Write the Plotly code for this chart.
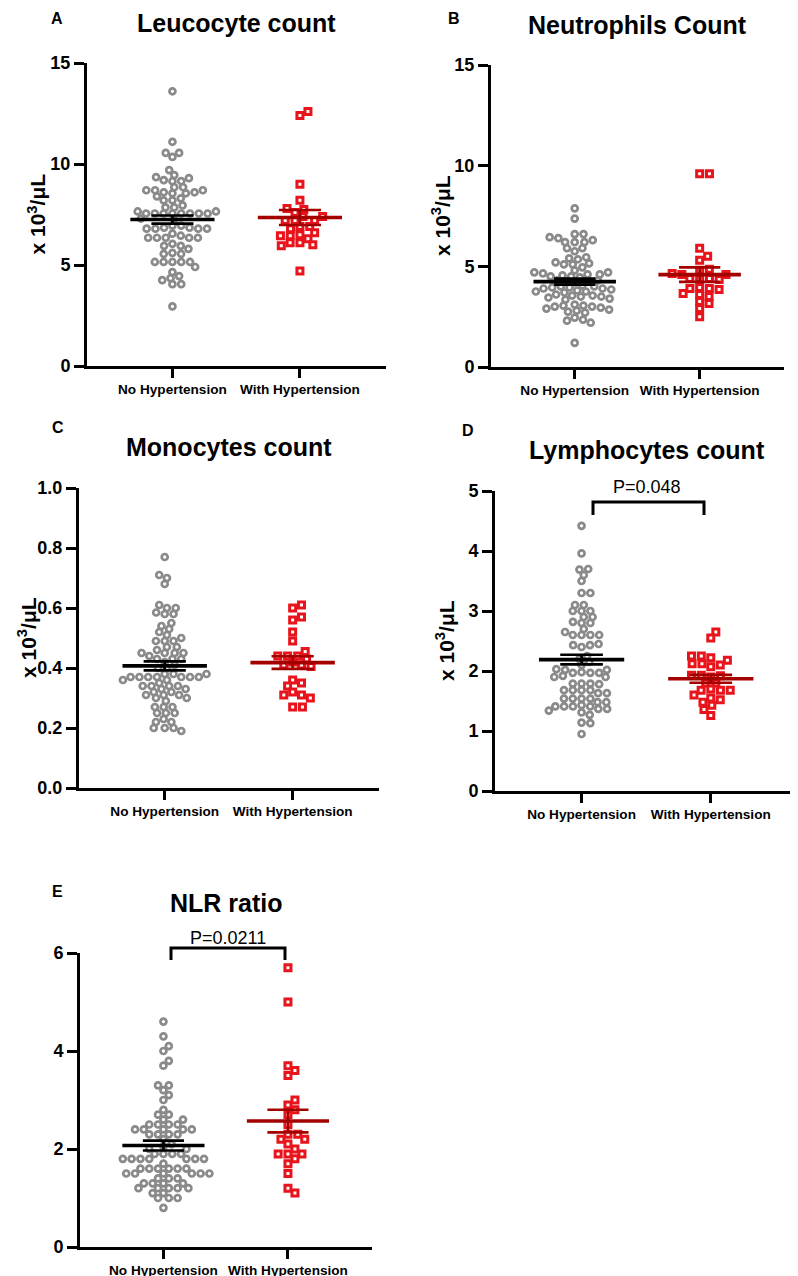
import numpy as np
import plotly.graph_objects as go

W, H = 798, 1276
OFF = 8  # the page body margin shifts the figure by this much

groups = ["No Hypertension", "With Hypertension"]
unit_label = "x 10<sup>3</sup>/μL"

# ---- values (x10^3/uL, NLR unitless) ----
leuco_no = [13.6, 11.1, 10.55, 10.55, 10.35, 9.7,
            9.45, 9.35, 9.3, 9.2, 9.15, 9.15,
            8.85, 8.85, 8.7, 8.7, 8.7, 8.6, 8.6, 8.55, 8.55,
            8.4, 8.3, 8.2, 8.2,
            7.95, 7.85, 7.85,
            7.65, 7.65, 7.55, 7.55, 7.55, 7.55, 7.55, 7.55, 7.55, 7.55,
            7.3, 7.25,
            6.95, 6.95, 6.85, 6.85, 6.8, 6.8, 6.8, 6.8,
            6.55, 6.45, 6.35, 6.35, 6.35, 6.35, 6.35,
            6.05, 5.95, 5.95, 5.8, 5.6, 5.55, 5.55,
            5.15, 5.15, 5.15, 5.15, 5.15,
            4.9, 4.65, 4.45, 4.35, 4.25, 4.05, 4.05,
            2.95]
leuco_with = [12.6, 12.4, 9.0, 8.2, 7.8, 7.75, 7.6, 7.4, 7.4, 7.2, 7.2, 7.2,
              6.9, 6.9, 6.8, 6.6, 6.5, 6.45, 6.45, 6.3, 6.1, 6.1, 6.0, 5.95, 4.7]

neutro_no = [7.88, 7.37,
             6.6, 6.6, 6.45, 6.4, 6.3, 6.2, 6.2, 6.2,
             5.9, 5.9, 5.75,
             5.45, 5.4, 5.35, 5.2, 5.15, 5.1, 5.1,
             4.95, 4.8, 4.7, 4.7, 4.65, 4.5, 4.5, 4.45, 4.6, 4.6, 4.55,
             4.3, 4.25, 4.25, 4.2, 4.3,
             4.05, 4.0, 4.0, 3.95, 3.95, 3.9, 3.9, 3.85, 3.8, 3.75, 3.75, 3.7,
             3.6, 3.55, 3.55, 3.5, 3.5, 3.45, 3.4, 3.35,
             3.1, 3.05, 3.05, 3.0, 3.0, 2.95, 2.9, 2.85, 2.8, 2.75, 2.7,
             2.45, 2.35, 2.2, 2.3, 1.2]
neutro_with = [9.6, 9.6, 5.9, 5.5, 5.3, 4.85, 4.8, 4.6, 4.6, 4.65, 4.4, 4.4, 4.4,
               4.35, 3.95, 3.9, 3.9, 3.85, 3.65, 3.6, 3.5, 3.25, 3.15, 2.9, 2.5]

mono_no = [0.77, 0.71, 0.70, 0.68,
           0.61, 0.60, 0.60, 0.585, 0.58, 0.58,
           0.55, 0.54, 0.53, 0.52, 0.51, 0.50, 0.49, 0.49, 0.49,
           0.47, 0.47, 0.46, 0.45, 0.45, 0.45, 0.45, 0.43, 0.43, 0.44, 0.43,
           0.42, 0.40, 0.40,
           0.41, 0.38, 0.38, 0.37, 0.37, 0.37, 0.37, 0.37, 0.37, 0.37, 0.38, 0.36, 0.36,
           0.33, 0.34, 0.34, 0.34, 0.34, 0.35, 0.33, 0.31, 0.31, 0.32, 0.32, 0.31,
           0.30, 0.30, 0.29, 0.27, 0.27, 0.27, 0.25, 0.25, 0.25,
           0.22, 0.23, 0.22, 0.20, 0.20, 0.20, 0.19]
mono_with = [0.61, 0.60, 0.57, 0.56, 0.52, 0.49, 0.455, 0.44, 0.44, 0.44, 0.43, 0.42,
             0.41, 0.41, 0.405, 0.36, 0.35, 0.34, 0.32, 0.31, 0.31, 0.30, 0.27, 0.27]

lympho_no = [4.42, 3.96, 3.7, 3.69, 3.6, 3.5, 3.3, 3.3,
             3.1, 3.1, 3.0, 3.0, 3.0,
             2.9, 2.9, 2.8, 2.8, 2.82,
             2.7, 2.65, 2.6, 2.6, 2.6, 2.6,
             2.43, 2.45, 2.4, 2.43,
             2.25, 2.2, 2.15, 2.1,
             2.03, 2.02, 1.97, 1.97, 1.98, 2.02, 1.97, 1.9, 1.9, 1.92,
             1.79, 1.79, 1.79, 1.78, 1.68, 1.68, 1.68, 1.68, 1.63, 1.63,
             1.54, 1.48, 1.54, 1.48, 1.54, 1.54, 1.41, 1.37, 1.41, 1.41, 1.43, 1.41,
             1.37, 1.31, 1.34, 1.27,
             1.14, 1.13, 0.95]
lympho_with = [2.65, 2.55, 2.25, 2.22, 2.18, 2.25, 2.12, 2.1, 2.07, 2.12,
               1.93, 1.92, 1.9, 1.93, 1.8, 1.8, 1.68, 1.68, 1.7, 1.68,
               1.6, 1.55, 1.52, 1.48, 1.43, 1.36, 1.26]

nlr_no = [4.6, 4.3, 4.1, 4.0, 3.8, 3.7,
          3.3, 3.3, 3.2, 3.1, 3.0,
          2.8, 2.7, 2.7, 2.6, 2.6,
          2.5, 2.5, 2.5, 2.5, 2.4, 2.4, 2.4, 2.4, 2.4, 2.3, 2.3, 2.3, 2.3,
          2.2, 2.1, 2.05, 2.0, 2.0,
          1.9, 1.9, 1.9, 1.9, 1.8, 1.8, 1.8, 1.8, 1.8, 1.8, 1.8, 1.7,
          1.6, 1.6, 1.6, 1.6, 1.6, 1.6,
          1.5, 1.5, 1.5, 1.5, 1.5, 1.5, 1.4, 1.4, 1.4,
          1.3, 1.3, 1.3, 1.3,
          1.2, 1.2, 1.2, 1.2, 1.2, 1.1, 1.1, 1.0, 1.0, 1.0, 0.8]
nlr_with = [5.7, 5.0, 3.7, 3.6, 3.5, 3.0, 2.9, 2.8, 2.7, 2.5, 2.3, 2.3,
            2.2, 2.2, 2.1, 2.0, 1.9, 1.9, 1.9, 1.8, 1.7, 1.5, 1.2, 1.1]

# mean and SEM per group [no, with]
leuco_mean, leuco_sem = [7.25, 7.35], [0.2, 0.37]
neutro_mean, neutro_sem = [4.24, 4.59], [0.15, 0.36]
mono_mean, mono_sem = [0.407, 0.418], [0.015, 0.021]
lympho_mean, lympho_sem = [2.19, 1.87], [0.08, 0.065]
nlr_mean, nlr_sem = [2.07, 2.57], [0.1, 0.23]

GRAY = "#8a8a8a"
RED = "#e8141c"
DARKRED = "#a30000"
FONT = "Liberation Sans, Arial, sans-serif"
XR = [-0.67, 1.675]

# panel boxes in screen pixels: left, right, top, bottom
# letter_xy: centre of the panel letter; None in y means "pinned to the page top"
panels = [
    dict(letter="A", title="Leucocyte count", no=leuco_no, yes=leuco_with,
         mean=leuco_mean, sem=leuco_sem, ymax=15, ticks=[0, 5, 10, 15], fmt="{:g}",
         box=(87, 386, 63, 366), ylab=True, letter_xy=(57, None), title_y=23, ylab_x=36),
    dict(letter="B", title="Neutrophils Count", no=neutro_no, yes=neutro_with,
         mean=neutro_mean, sem=neutro_sem, ymax=15, ticks=[0, 5, 10, 15], fmt="{:g}",
         box=(491, 784, 65, 367), ylab=True, letter_xy=(454, None), title_y=25, ylab_x=441),
    dict(letter="C", title="Monocytes count", no=mono_no, yes=mono_with,
         mean=mono_mean, sem=mono_sem, ymax=1.0, ticks=[0, 0.2, 0.4, 0.6, 0.8, 1.0], fmt="{:.1f}",
         box=(79, 379, 488, 788), ylab=True, letter_xy=(58, 427), title_y=447, ylab_x=27),
    dict(letter="D", title="Lymphocytes count", no=lympho_no, yes=lympho_with,
         mean=lympho_mean, sem=lympho_sem, ymax=5, ticks=[0, 1, 2, 3, 4, 5], fmt="{:g}",
         box=(495, 798, 491, 791), ylab=True, letter_xy=(468, 430), title_y=450, ylab_x=445),
    dict(letter="E", title="NLR ratio", no=nlr_no, yes=nlr_with,
         mean=nlr_mean, sem=nlr_sem, ymax=6, ticks=[0, 2, 4, 6], fmt="{:g}",
         box=(80, 372, 953, 1247), ylab=False, letter_xy=(57, 891), title_y=903, ylab_x=0),
]

# significance brackets: (x left, x right, y bar, y foot) in px, label, label centre
brackets = [
    ((593, 704, 502, 515), "P=0.048", (647, 487)),
    ((171, 285, 948, 960), "P=0.0211", (228, 938)),
]


def swarm(vals, center, xscale, yscale, a, bv):
    """Beeswarm offsets (placed from the median outwards), in data units.
    Points collide inside an ellipse of half-axes a (horizontal) and bv (vertical) px."""
    vals = np.asarray(vals, dtype=float)
    med = np.median(vals)
    order = np.argsort(np.abs(vals - med), kind="stable")
    placed = []
    xs = np.zeros(len(vals))
    for i in order:
        y = vals[i] * yscale
        cands = [0.0]
        for px, py in placed:
            dy = abs(py - y)
            if dy < bv:
                dx = a * np.sqrt(1 - (dy / bv) ** 2)
                cands += [px + dx, px - dx]
        cands.sort(key=lambda c: (round(abs(c), 6), -c))
        for c in cands:
            if all(((c - px) / a) ** 2 + ((y - py) / bv) ** 2 >= 1 - 1e-6
                   for px, py in placed):
                break
        placed.append((c, y))
        xs[i] = center + c / xscale
    return xs


def px2paper(x, y):
    return (x - OFF) / W, 1 - (y - OFF) / H


fig = go.Figure()
annotations = []
shapes = []

for k, p in enumerate(panels, start=1):
    l, r, t, b = p["box"]
    xa, ya = f"x{k}", f"y{k}"
    xscale = (r - l) / (XR[1] - XR[0])
    yscale = (b - t) / p["ymax"]

    x_no = swarm(p["no"], 0, xscale, yscale, 8.8, 6.2)
    x_yes = swarm(p["yes"], 1, xscale, yscale, 9.8, 7.0)

    fig.add_trace(go.Scatter(
        x=x_no, y=p["no"], mode="markers", xaxis=xa, yaxis=ya, cliponaxis=False,
        marker=dict(symbol="circle", size=6, color="white",
                    line=dict(color=GRAY, width=2.7)),
        showlegend=False, hoverinfo="y"))
    fig.add_trace(go.Scatter(
        x=x_yes, y=p["yes"], mode="markers", xaxis=xa, yaxis=ya, cliponaxis=False,
        marker=dict(symbol="square", size=6, color="white",
                    line=dict(color=RED, width=3)),
        showlegend=False, hoverinfo="y"))

    for g, col in zip((0, 1), ("black", DARKRED)):
        m, s = p["mean"][g], p["sem"][g]
        fig.add_trace(go.Scatter(
            x=[g - 0.165, g + 0.165, None, g - 0.165, g + 0.165, None, g, g],
            y=[m + s, m + s, None, m - s, m - s, None, m - s, m + s],
            mode="lines", line=dict(color=col, width=2.6), xaxis=xa, yaxis=ya,
            showlegend=False, hoverinfo="skip"))
        fig.add_trace(go.Scatter(
            x=[g - 0.33, g + 0.33], y=[m, m], mode="lines",
            line=dict(color=col, width=3.6), xaxis=xa, yaxis=ya,
            showlegend=False, hoverinfo="skip"))

    x0p, y1p = px2paper(l, t)
    x1p, y0p = px2paper(r, b)
    axis_common = dict(showline=True, linewidth=3, linecolor="black", ticks="outside",
                       tickwidth=3, tickcolor="black", showgrid=False, zeroline=False,
                       automargin=False)
    fig.layout[f"xaxis{k}"] = dict(
        domain=[x0p, x1p], range=XR, anchor=ya, tickvals=[0, 1], ticktext=groups,
        ticklen=9, tickfont=dict(family=FONT, size=13.6, color="black", weight="bold"),
        **axis_common)
    fig.layout[f"yaxis{k}"] = dict(
        domain=[y0p, y1p], range=[0, p["ymax"]], anchor=xa,
        tickvals=p["ticks"], ticktext=[p["fmt"].format(v) for v in p["ticks"]],
        ticklen=10, tickfont=dict(family=FONT, size=18, color="black", weight="bold"),
        **axis_common)

    # titles, panel letters, y labels
    tx, ty = px2paper((l + r) / 2, p["title_y"])
    annotations.append(dict(x=tx, y=ty, xref="paper", yref="paper", text=p["title"],
                            showarrow=False, xanchor="center", yanchor="middle",
                            font=dict(family=FONT, size=25, color="black", weight="bold")))
    lx_px, ly_px = p["letter_xy"]
    if ly_px is None:
        lx, _ = px2paper(lx_px, OFF)
        ly, yanc = 1.0, "top"
    else:
        lx, ly = px2paper(lx_px, ly_px)
        yanc = "middle"
    annotations.append(dict(x=lx, y=ly, xref="paper", yref="paper", text=p["letter"],
                            showarrow=False, xanchor="center", yanchor=yanc,
                            font=dict(family=FONT, size=16, color="black", weight="bold")))
    if p["ylab"]:
        yx, yy = px2paper(p["ylab_x"], (t + b) / 2)
        annotations.append(dict(x=yx, y=yy, xref="paper", yref="paper", text=unit_label,
                                showarrow=False, textangle=-90, xanchor="center",
                                yanchor="middle",
                                font=dict(family=FONT, size=21, color="black", weight="bold")))

for (x0, x1, ybar, yfoot), label, (cx, cy) in brackets:
    ax, ay = px2paper(x0, yfoot)
    bx, by = px2paper(x1, ybar)
    path = f"M {ax} {ay} L {ax} {by} L {bx} {by} L {bx} {ay}"
    shapes.append(dict(type="path", path=path, xref="paper", yref="paper",
                       line=dict(color="black", width=3)))
    px_, py_ = px2paper(cx, cy)
    annotations.append(dict(x=px_, y=py_, xref="paper", yref="paper", text=label,
                            showarrow=False, xanchor="center", yanchor="middle",
                            font=dict(family=FONT, size=18, color="black")))

fig.update_layout(
    width=W, height=H, margin=dict(l=0, r=0, t=0, b=0),
    plot_bgcolor="white", paper_bgcolor="white",
    annotations=annotations, shapes=shapes, showlegend=False)

fig.write_html("out.html")
